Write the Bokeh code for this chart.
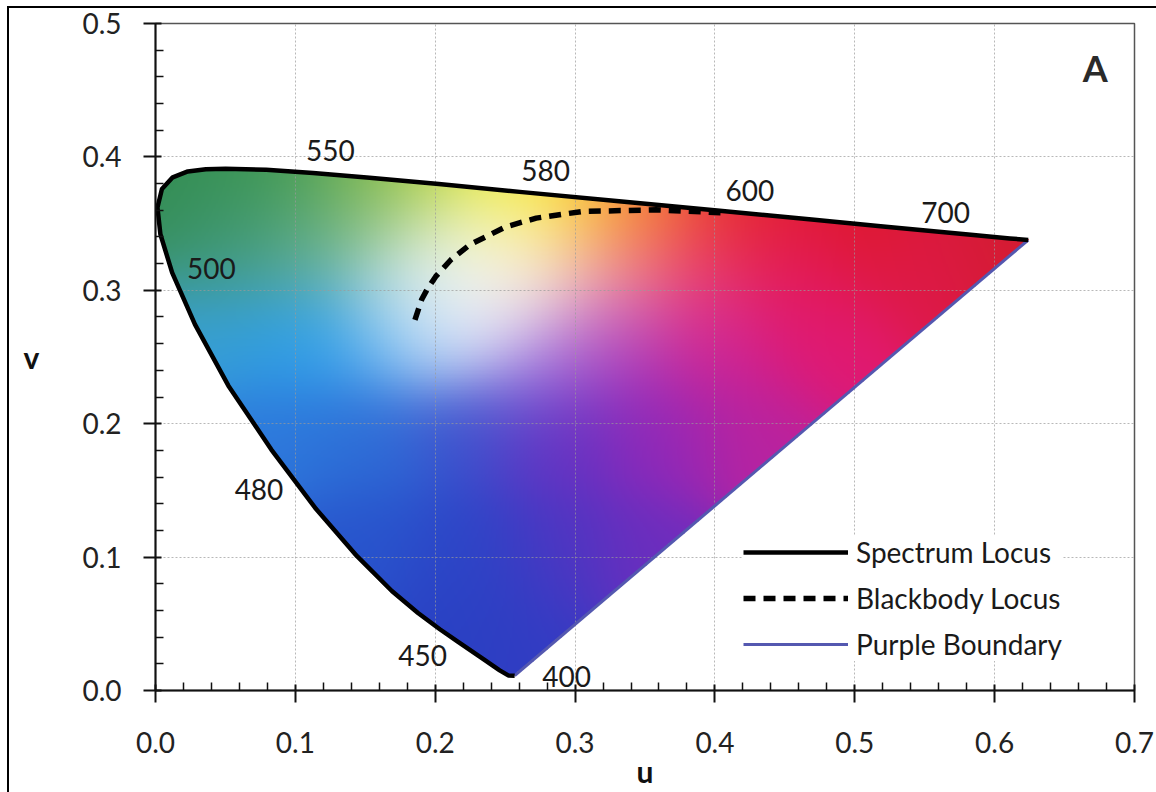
import numpy as np
from bokeh.plotting import figure
from bokeh.models import FixedTicker, PrintfTickFormatter, Legend, LegendItem, Range1d
from bokeh.embed import file_html
from bokeh.resources import INLINE
from bokeh.core.properties import value

# ---------------- data ----------------
# Spectrum locus in CIE 1960 (u, v)
wavelength_nm = [380, 420, 430, 440, 450, 455, 460, 465, 470, 475, 480, 485, 490,
                 495, 500, 505, 510, 515, 520, 525, 530, 540, 550, 560, 570, 580,
                 590, 600, 610, 620, 640, 660, 700]
locus_u = [0.2568, 0.2522, 0.2461, 0.2347, 0.2161, 0.2033, 0.1877, 0.1690, 0.1441,
           0.1147, 0.0828, 0.0521, 0.0282, 0.0119, 0.0035, 0.0014, 0.0046, 0.0123,
           0.0231, 0.0360, 0.0501, 0.0792, 0.1127, 0.1531, 0.2026, 0.2623, 0.3315,
           0.4035, 0.4692, 0.5203, 0.5830, 0.6109, 0.6240]
locus_v = [0.0111, 0.0113, 0.0151, 0.0233, 0.0366, 0.0459, 0.0581, 0.0746, 0.1007,
           0.1362, 0.1806, 0.2285, 0.2745, 0.3132, 0.3420, 0.3621, 0.3759, 0.3847,
           0.3891, 0.3908, 0.3912, 0.3904, 0.3880, 0.3844, 0.3796, 0.3736, 0.3667,
           0.3596, 0.3530, 0.3479, 0.3417, 0.3389, 0.3377]

# Blackbody (Planckian) locus
bb_u = [0.1855, 0.1904, 0.1946, 0.2004, 0.2114, 0.2251, 0.2505, 0.2722, 0.3051, 0.3579, 0.4040]
bb_v = [0.2779, 0.2933, 0.3014, 0.3104, 0.3231, 0.3344, 0.3476, 0.3541, 0.3591, 0.3603, 0.3582]

# Wavelength labels
wl_labels = ["550", "580", "600", "700", "500", "480", "450", "400"]
wl_u = [0.125, 0.279, 0.425, 0.565, 0.040, 0.074, 0.191, 0.294]
wl_v = [0.405, 0.390, 0.375, 0.358, 0.316, 0.151, 0.026, 0.0105]

# Axis ticks
u_ticks = [0.0, 0.1, 0.2, 0.3, 0.4, 0.5, 0.6, 0.7]
v_ticks = [0.0, 0.1, 0.2, 0.3, 0.4, 0.5]

# Fill colour samples (u, v, r, g, b)
col_u = [0.02, 0.08, 0.14, 0.19, 0.24, 0.28, 0.32, 0.36, 0.42, 0.50, 0.60,
         0.05, 0.11, 0.17, 0.215, 0.25, 0.28, 0.33, 0.39, 0.46, 0.55,
         0.04, 0.10, 0.16, 0.20, 0.27, 0.33, 0.40, 0.48,
         0.08, 0.15, 0.22, 0.29, 0.36, 0.43,
         0.15, 0.22, 0.29, 0.35,
         0.22, 0.27,
         0.20, 0.235, 0.225]
col_v = [0.36, 0.375, 0.37, 0.37, 0.368, 0.365, 0.36, 0.355, 0.35, 0.345, 0.338,
         0.33, 0.33, 0.33, 0.31, 0.335, 0.31, 0.31, 0.31, 0.31, 0.315,
         0.27, 0.265, 0.27, 0.275, 0.255, 0.26, 0.26, 0.26,
         0.19, 0.19, 0.20, 0.19, 0.19, 0.19,
         0.11, 0.10, 0.10, 0.10,
         0.05, 0.04,
         0.30, 0.318, 0.295]
col_r = [50, 60, 110, 170, 240, 252, 250, 240, 228, 222, 212,
         70, 100, 165, 253, 252, 248, 242, 235, 228, 222,
         55, 45, 70, 175, 160, 170, 205, 225,
         45, 45, 60, 100, 145, 185,
         40, 45, 75, 110,
         40, 50,
         240, 253, 250]
col_g = [140, 150, 175, 205, 238, 242, 170, 100, 35, 25, 28,
         155, 175, 210, 253, 248, 215, 140, 60, 25, 25,
         160, 160, 170, 210, 120, 60, 35, 25,
         120, 110, 80, 50, 40, 35,
         85, 70, 55, 45,
         65, 60,
         248, 252, 248]
col_b = [80, 80, 75, 60, 45, 40, 50, 45, 40, 40, 48,
         130, 160, 190, 252, 205, 225, 180, 130, 100, 75,
         215, 235, 240, 248, 225, 190, 150, 115,
         220, 215, 205, 195, 185, 160,
         205, 200, 195, 190,
         195, 195,
         252, 245, 252]

# ---------------- colour fill image ----------------
nu, nv = 631, 396
du, dv = 0.631, 0.396
gu = (np.arange(nu) + 0.5) * du / nu
gv = (np.arange(nv) + 0.5) * dv / nv
U, V = np.meshgrid(gu, gv)
au, av = np.array(col_u), np.array(col_v)
cols = np.stack([col_r, col_g, col_b], axis=1).astype(float)
sig = 0.034
W = np.exp(-((U[..., None] - au) ** 2 + (V[..., None] - av) ** 2) / (2 * sig ** 2)) + 1e-300
rgb = (W @ cols) / W.sum(-1, keepdims=True)

px, py = np.array(locus_u), np.array(locus_v)
inside = np.zeros(U.shape, dtype=bool)
j = len(px) - 1
for i in range(len(px)):
    xi, yi, xj, yj = px[i], py[i], px[j], py[j]
    cond = ((yi > V) != (yj > V)) & (U < (xj - xi) * (V - yi) / (yj - yi + 1e-12) + xi)
    inside ^= cond
    j = i

img = np.zeros((nv, nu), dtype=np.uint32)
view = img.view(dtype=np.uint8).reshape((nv, nu, 4))
view[..., 0] = np.clip(rgb[..., 0], 0, 255).astype(np.uint8)
view[..., 1] = np.clip(rgb[..., 1], 0, 255).astype(np.uint8)
view[..., 2] = np.clip(rgb[..., 2], 0, 255).astype(np.uint8)
view[..., 3] = np.where(inside, 255, 0).astype(np.uint8)

# ---------------- figure ----------------
FONT = "Lato"
p = figure(width=1156, height=792, output_backend="svg", toolbar_location=None,
           x_range=Range1d(0, 0.7), y_range=Range1d(0, 0.5),
           min_border_left=155, min_border_top=23, min_border_right=22,
           min_border_bottom=102)
p.styles = {"background-color": "white",
            "box-shadow": "inset 7px 6px 0 0 white, inset 9px 8px 0 0 black"}
p.background_fill_color = "white"
p.border_fill_color = None
p.outline_line_color = "#555555"
p.outline_line_width = 1.5

p.image_rgba(image=[img], x=0, y=0, dw=du, dh=dv, level="image")

r_purple = p.line(x=[locus_u[-1], locus_u[0]], y=[locus_v[-1], locus_v[0]],
                  line_color="#5458b0", line_width=3)
r_locus = p.line(x=locus_u, y=locus_v, line_color="black", line_width=4.5,
                 line_join="round")
r_bb = p.line(x=bb_u, y=bb_v, line_color="black", line_width=5.5,
              line_dash="12 8")

p.text(x=wl_u, y=wl_v, text=wl_labels, text_font=value(FONT),
       text_font_size="28px", text_align="center", text_baseline="middle",
       text_color="#1a1a1a")
p.text(x=[0.672], y=[0.467], text=["A"], text_font=value(FONT),
       text_font_size="36px", text_font_style="bold", text_align="center",
       text_baseline="middle", text_color="#2a2a2a")

minor_u = [round(0.02 * k, 2) for k in range(36) if k % 5]
minor_v = [round(0.02 * k, 2) for k in range(26) if k % 5]
p.xaxis[0].ticker = FixedTicker(ticks=u_ticks, minor_ticks=minor_u)
p.yaxis[0].ticker = FixedTicker(ticks=v_ticks, minor_ticks=minor_v)

for ax in (p.xaxis[0], p.yaxis[0]):
    ax.formatter = PrintfTickFormatter(format="%.1f")
    ax.axis_line_color = "#111111"
    ax.axis_line_width = 2
    ax.major_tick_line_color = "#111111"
    ax.major_tick_line_width = 2
    ax.minor_tick_line_color = "#111111"
    ax.minor_tick_line_width = 1.5
    ax.major_tick_out = 12
    ax.major_tick_in = 6
    ax.minor_tick_in = 8
    ax.minor_tick_out = 0
    ax.major_label_text_font = FONT
    ax.major_label_text_font_size = "28px"
    ax.major_label_text_color = "#222222"
    ax.axis_label_text_font = FONT
    ax.axis_label_text_font_size = "30px"
    ax.axis_label_text_font_style = "bold"
    ax.axis_label_text_color = "#111111"

p.xaxis.axis_label = "u"
p.xaxis.major_label_standoff = 29
p.xaxis.axis_label_standoff = -3
p.yaxis.axis_label = "v"
p.yaxis.major_label_standoff = 22
p.yaxis.axis_label_standoff = 40
p.yaxis.axis_label_orientation = "horizontal"

p.xgrid[0].ticker = FixedTicker(ticks=u_ticks)
p.ygrid[0].ticker = FixedTicker(ticks=v_ticks)
for g in (p.xgrid[0], p.ygrid[0]):
    g.grid_line_color = "#9a9a9a"
    g.grid_line_alpha = 0.7
    g.grid_line_dash = "2 2"
    g.grid_line_width = 1

legend = Legend(items=[LegendItem(label="Spectrum Locus", renderers=[r_locus]),
                       LegendItem(label="Blackbody Locus", renderers=[r_bb]),
                       LegendItem(label="Purple Boundary", renderers=[r_purple])],
                location=(588, 29))
legend.label_text_font = FONT
legend.label_text_font_size = "28px"
legend.label_text_color = "#1a1a1a"
legend.glyph_width = 105
legend.glyph_height = 30
legend.label_height = 30
legend.label_standoff = 8
legend.spacing = 12
legend.padding = 10
legend.margin = 0
legend.border_line_color = None
legend.background_fill_color = "white"
legend.background_fill_alpha = 1.0
p.add_layout(legend)

open("out.html", "w").write(file_html(p, INLINE))
